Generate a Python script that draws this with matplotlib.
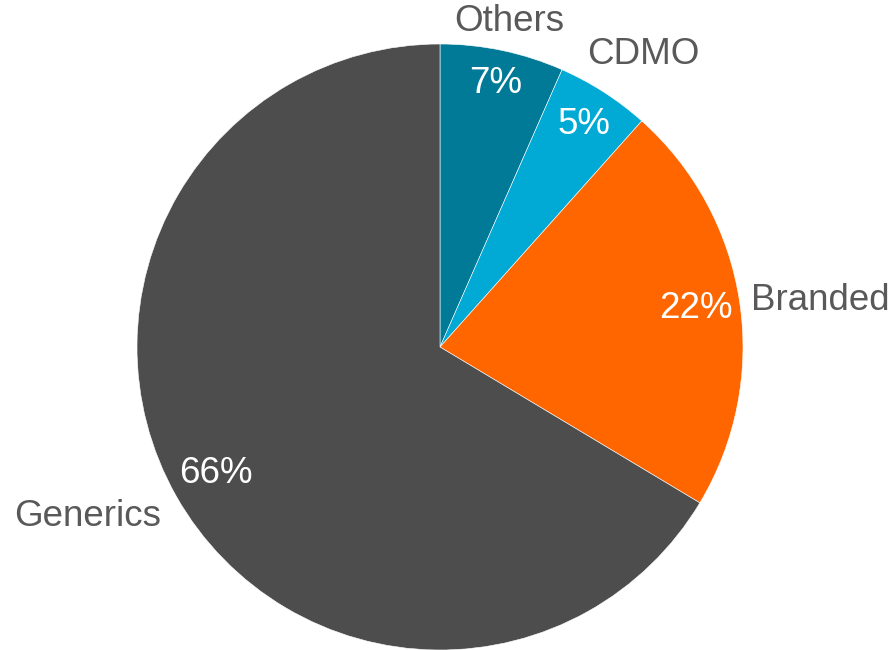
import numpy as np
import matplotlib.pyplot as plt

# Segment shares, clockwise from 12 o'clock
segments = ["Others", "CDMO", "Branded", "Generics"]
shares = [6.6, 5.0, 22.0, 66.4]
colors = ["#007A96", "#00AAD4", "#FF6600", "#4D4D4D"]

# Where the category names sit, in pie radius units
label_xy = [(0.228, 1.073), (0.670, 0.964), (1.254, 0.155), (-1.162, -0.558)]
# Radial distance of the percentage labels
pct_r = [0.89, 0.875, 0.855, 0.85]

plt.rcParams["font.family"] = ["Liberation Sans", "DejaVu Sans"]

fig = plt.figure(figsize=(8.94, 6.5), dpi=100)
R = 303
cx, cy = 440, 650 - 347
ax = fig.add_axes([(cx - R) / 894, (cy - R) / 650, 2 * R / 894, 2 * R / 650])

wedges, texts, autotexts = ax.pie(
    shares,
    labels=segments,
    colors=colors,
    startangle=90,
    counterclock=False,
    autopct="%.0f%%",
    wedgeprops=dict(edgecolor="white", linewidth=0.4),
    textprops=dict(fontsize=26.5),
)

for t, (x, y) in zip(texts, label_xy):
    t.set_position((x, y))
    t.set_ha("center")
    t.set_va("center")
    t.set_color("#595959")

for w, t, r in zip(wedges, autotexts, pct_r):
    a = np.deg2rad((w.theta1 + w.theta2) / 2)
    t.set_position((r * np.cos(a), r * np.sin(a)))
    t.set_color("white")
    t.set_fontsize(26.5)

ax.set_xlim(-1, 1)
ax.set_ylim(-1, 1)
ax.set_aspect("equal")

fig.savefig("out.png", dpi=100)
